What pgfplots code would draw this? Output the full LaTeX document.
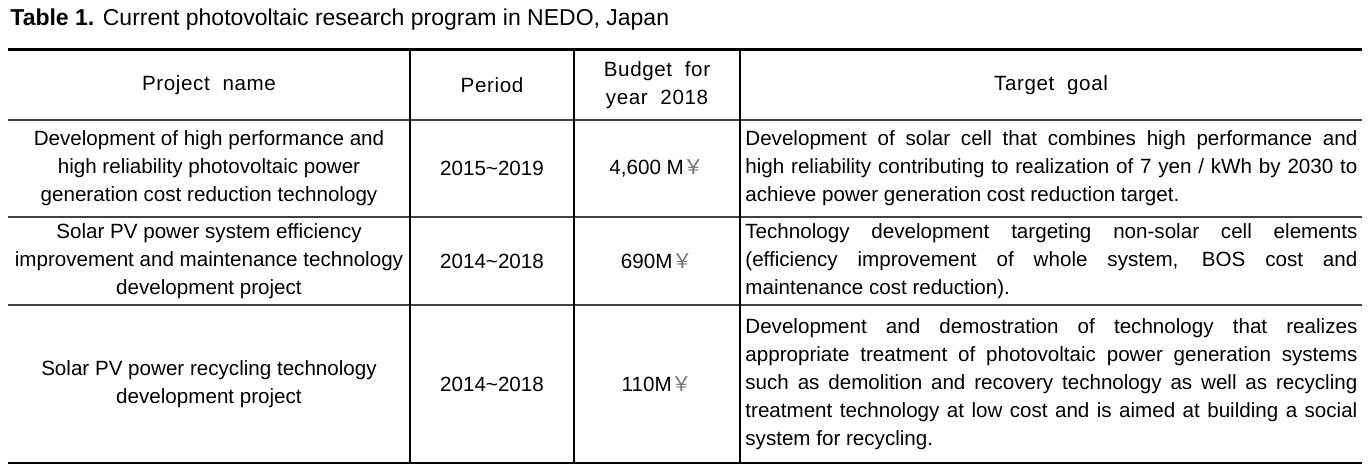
\documentclass[border=0pt]{standalone}
\usepackage{pgfplots}
\pgfplotsset{compat=1.18}
\usepackage{fontspec}
\setmainfont{Liberation Sans}
\newfontfamily\cjk{Noto Sans CJK JP}

% yen sign as in the source (thin, greyish full-width glyph)
\newcommand{\yensign}{{\cjk\textcolor{black!55}{￥}}}
\newcommand{\cellfont}{\fontsize{10.3}{14}\selectfont}
\newcommand{\headfont}{\fontsize{10.3}{14}\selectfont\addfontfeature{LetterSpace=3}}

\begin{document}
\begin{tikzpicture}
\begin{axis}[
    width=684pt, height=234pt, scale only axis,
    xmin=0, xmax=1368, ymin=0, ymax=468, y dir=reverse,
    hide axis, clip=false,
]
    % keep the whole page
    \addplot[draw=none] coordinates {(0,0) (1368,468)};

    % horizontal rules
    \addplot[black, line width=1.5pt] coordinates {(8,49) (1362,49)};
    \addplot[black!75, line width=0.75pt] coordinates {(8,120) (1362,120)};
    \addplot[black!75, line width=0.75pt] coordinates {(8,217) (1362,217)};
    \addplot[black!75, line width=0.75pt] coordinates {(8,305) (1362,305)};
    \addplot[black, line width=1pt] coordinates {(8,463) (1362,463)};

    % vertical rules
    \addplot[black, line width=0.75pt] coordinates {(410,49) (410,463)};
    \addplot[black, line width=0.75pt] coordinates {(574,49) (574,463)};
    \addplot[black, line width=0.75pt] coordinates {(740,49) (740,463)};

    % title
    \node[anchor=west, font=\fontsize{11.5}{13}\selectfont, inner sep=0pt] at (axis cs:10,20)
        {\textbf{Table 1.} Current photovoltaic research program in NEDO, Japan};

    % header
    \node[font=\headfont] at (axis cs:209,85) {Project\ \ name};
    \node[font=\headfont] at (axis cs:492,85) {Period};
    \node[font=\headfont, align=center] at (axis cs:657,85) {Budget\ \ for\\year\ \ 2018};
    \node[font=\headfont] at (axis cs:1051,85) {Target\ \ goal};

    % row 1
    \node[font=\cellfont, align=center] at (axis cs:209,168)
        {Development of high performance and\\high reliability photovoltaic power\\generation cost reduction technology};
    \node[font=\cellfont] at (axis cs:492,168) {2015\textasciitilde 2019};
    \node[font=\cellfont] at (axis cs:657,168) {4,600 M\yensign};
    \node[font=\cellfont, anchor=west, inner sep=0pt, text width=306pt, align=justify] at (axis cs:745,168)
        {Development of solar cell that combines high performance and\linebreak
         high reliability contributing to realization of 7 yen / kWh by 2030 to\linebreak
         achieve power generation cost reduction target.};

    % row 2
    \node[font=\cellfont, align=center] at (axis cs:209,261)
        {Solar PV power system efficiency\\improvement and maintenance technology\\development project};
    \node[font=\cellfont] at (axis cs:492,261) {2014\textasciitilde 2018};
    \node[font=\cellfont] at (axis cs:657,261) {690M\yensign};
    \node[font=\cellfont, anchor=west, inner sep=0pt, text width=306pt, align=justify] at (axis cs:745,261)
        {Technology development targeting non-solar cell elements\linebreak
         (efficiency improvement of whole system, BOS cost and\linebreak
         maintenance cost reduction).};

    % row 3
    \node[font=\cellfont, align=center] at (axis cs:209,384)
        {Solar PV power recycling technology\\development project};
    \node[font=\cellfont] at (axis cs:492,384) {2014\textasciitilde 2018};
    \node[font=\cellfont] at (axis cs:657,384) {110M\yensign};
    \node[font=\cellfont, anchor=west, inner sep=0pt, text width=306pt, align=justify] at (axis cs:745,384)
        {Development and demostration of technology that realizes\linebreak
         appropriate treatment of photovoltaic power generation systems\linebreak
         such as demolition and recovery technology as well as recycling\linebreak
         treatment technology at low cost and is aimed at building a social\linebreak
         system for recycling.};
\end{axis}
\end{tikzpicture}
\end{document}
